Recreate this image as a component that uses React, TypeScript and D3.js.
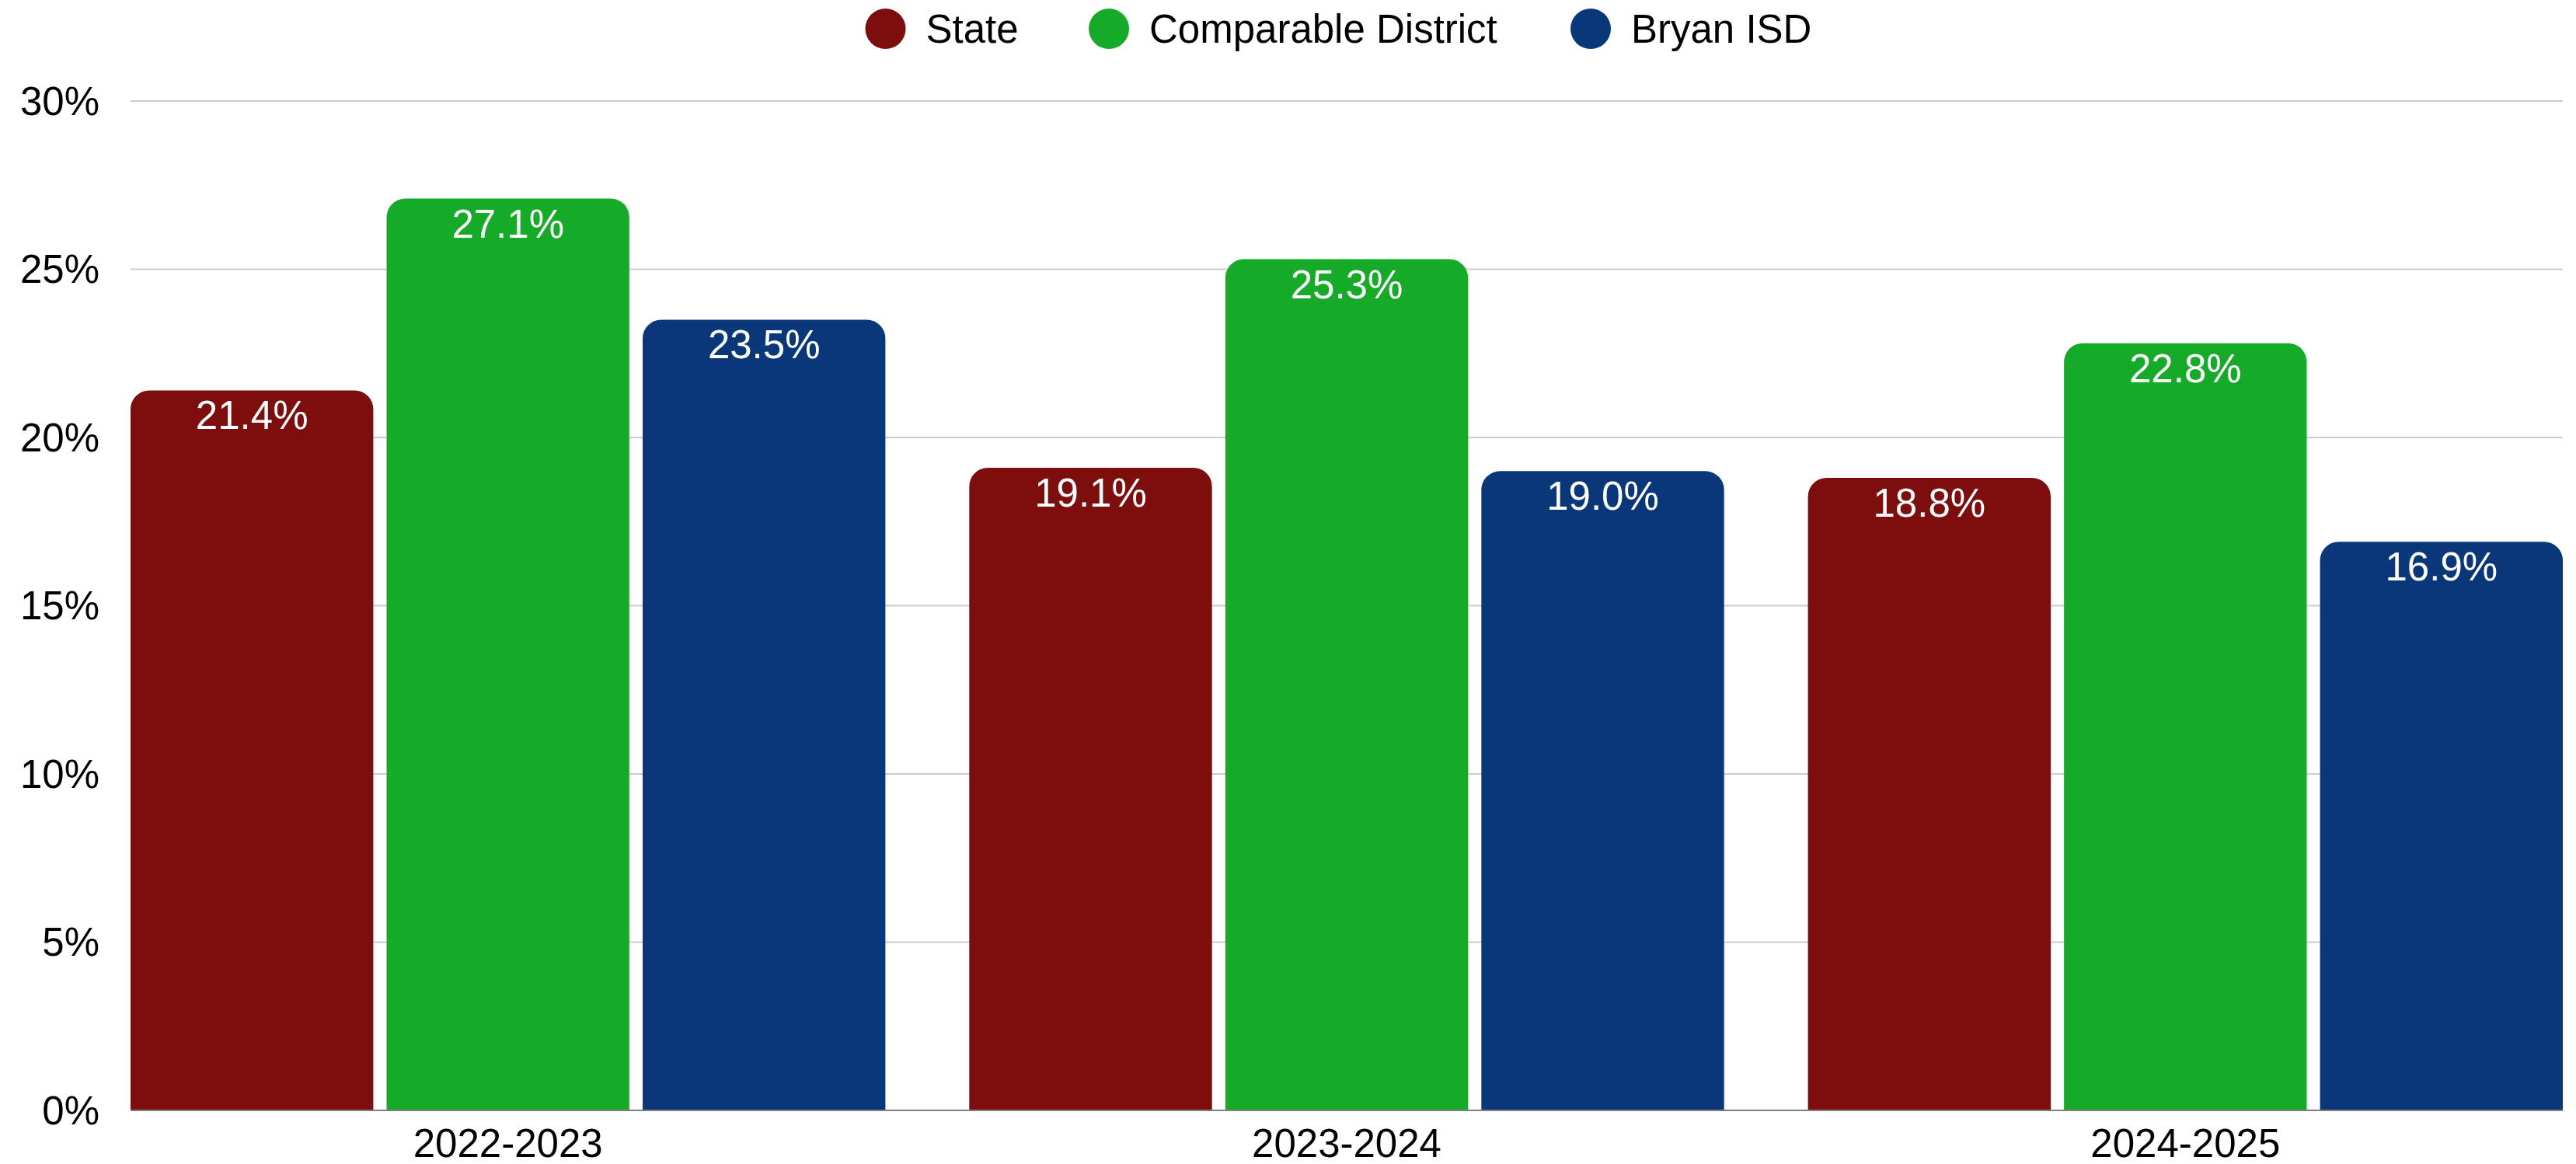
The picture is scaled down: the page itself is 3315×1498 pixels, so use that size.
import React from "react";
import * as d3 from "d3";

const categories = ["2022-2023", "2023-2024", "2024-2025"];
const seriesNames = ["State", "Comparable District", "Bryan ISD"];
const seriesColors = ["#7E0E0E", "#15AB29", "#0A377A"];
const stateValues = [21.4, 19.1, 18.8];
const comparableValues = [27.1, 25.3, 22.8];
const bryanValues = [23.5, 19.0, 16.9];
const yTicks = [0, 5, 10, 15, 20, 25, 30];

const W = 3315;
const H = 1498;
const FONT = "'Liberation Sans', Arial, sans-serif";

function topRoundedRect(x: number, y: number, w: number, h: number, r: number) {
  const rr = Math.min(r, w / 2, h);
  const p = d3.path();
  p.moveTo(x, y + h);
  p.lineTo(x, y + rr);
  p.arcTo(x, y, x + rr, y, rr);
  p.lineTo(x + w - rr, y);
  p.arcTo(x + w, y, x + w, y + rr, rr);
  p.lineTo(x + w, y + h);
  p.closePath();
  return p.toString();
}

export default function App() {
  const series = [stateValues, comparableValues, bryanValues];
  const left = 168;
  const right = 3298;
  const y = d3.scaleLinear().domain([0, 30]).range([1429, 130]);
  const x0 = d3.scaleBand<string>().domain(categories).range([left, right]).paddingInner(0.1).paddingOuter(0);
  const x1 = d3.scaleBand<string>().domain(seriesNames).range([0, x0.bandwidth()]).paddingInner(0.052).paddingOuter(0);

  const legendItems = [
    { name: seriesNames[0], cx: 1139.5, color: seriesColors[0] },
    { name: seriesNames[1], cx: 1427, color: seriesColors[1] },
    { name: seriesNames[2], cx: 2047, color: seriesColors[2] },
  ];

  return (
    <svg width={W} height={H} style={{ position: "absolute", left: 0, top: 0, background: "#fff" }} fontFamily={FONT}>
      <rect x={0} y={0} width={W} height={H} fill="#fff" />
      {legendItems.map((it) => (
        <g key={it.name}>
          <circle cx={it.cx} cy={37} r={26} fill={it.color} />
          <text x={it.cx + 52} y={37} dominantBaseline="central" fontSize={51} fill="#000">
            {it.name}
          </text>
        </g>
      ))}
      {yTicks.map((t) => (
        <g key={t}>
          {t > 0 && (
            <line x1={left} x2={right} y1={y(t)} y2={y(t)} stroke="#cccccc" strokeWidth={2} />
          )}
          <text x={128} y={y(t)} textAnchor="end" dominantBaseline="central" fontSize={51} fill="#000">
            {t}%
          </text>
        </g>
      ))}
      {categories.map((c, ci) => (
        <g key={c} transform={`translate(${x0(c)},0)`}>
          {seriesNames.map((s, si) => {
            const v = series[si][ci];
            const bx = x1(s)!;
            const bw = x1.bandwidth();
            const top = y(v);
            return (
              <g key={s}>
                <path d={topRoundedRect(bx, top, bw, y(0) - top, 24)} fill={seriesColors[si]} />
                <text x={bx + bw / 2} y={top + 50} textAnchor="middle" fontSize={51} fill="#fff">
                  {v.toFixed(1)}%
                </text>
              </g>
            );
          })}
          <text x={x0.bandwidth() / 2} y={1471} textAnchor="middle" dominantBaseline="central" fontSize={51} fill="#000">
            {c}
          </text>
        </g>
      ))}
      <line x1={left} x2={right} y1={y(0)} y2={y(0)} stroke="#808080" strokeWidth={2} />
    </svg>
  );
}
